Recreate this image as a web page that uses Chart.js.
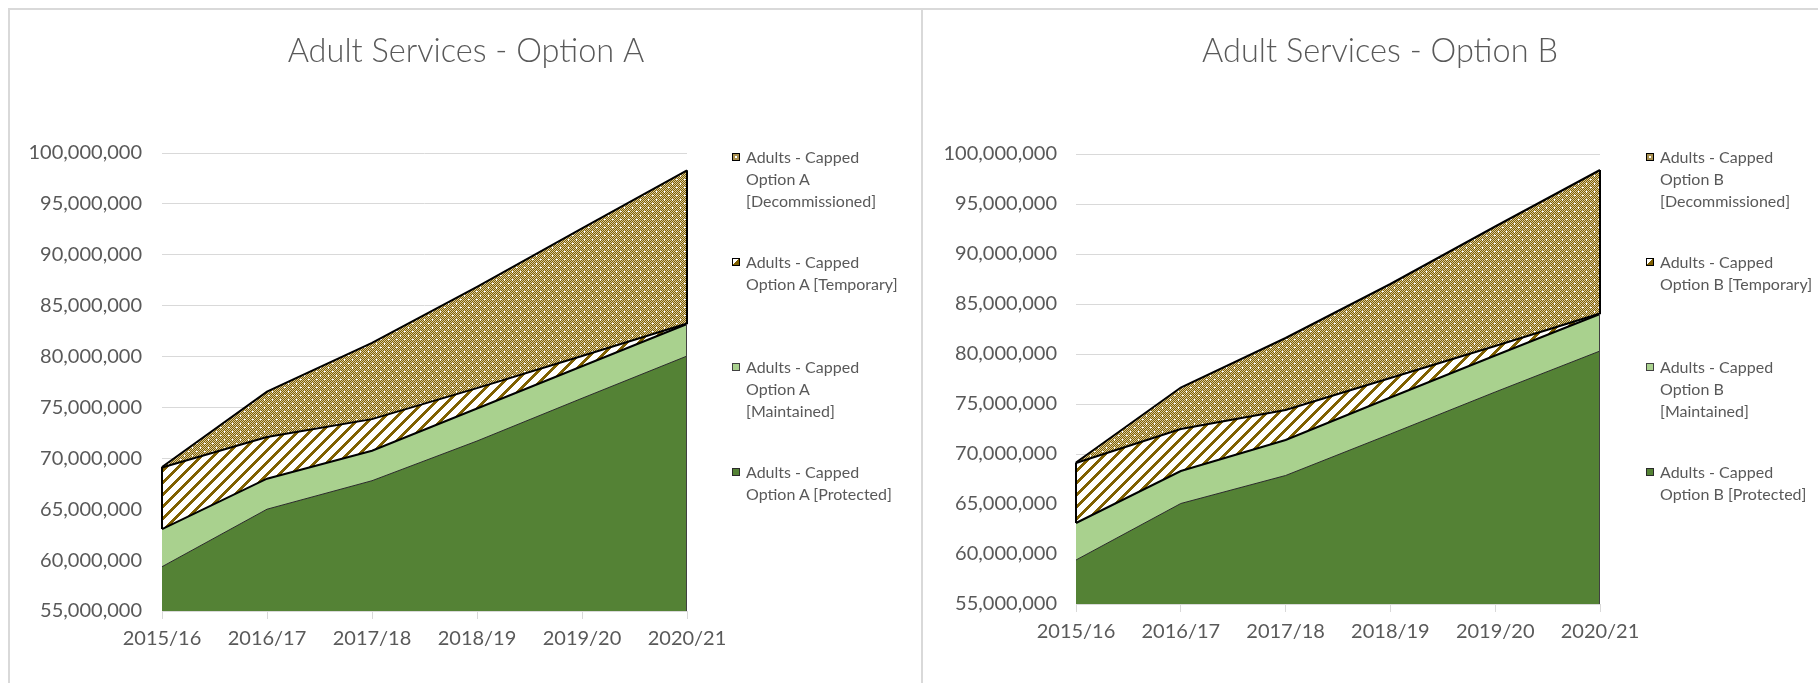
<!DOCTYPE html>
<html lang="en">
<head>
    <meta charset="UTF-8">
    <title>Adult Services - Option A / Option B</title>
    <!-- Chart js Library -->
    <script src="https://cdn.jsdelivr.net/npm/chart.js"></script>
    <style>
        html, body {
            margin: 0;
            padding: 0;
            background: #ffffff;
            width: 1818px;
            height: 683px;
            overflow: hidden;
            font-family: Lato, "Open Sans", sans-serif;
        }

        .panel {
            position: absolute;
            top: 8px;
            height: 720px;
            border: 2px solid #d9d9d9;
            box-sizing: border-box;
            background: #ffffff;
        }

        canvas {
            position: absolute;
            top: 9px;
        }

        .legend {
            position: absolute;
            top: 146px;
            color: #595959;
            font-size: 16px;
            line-height: 22px;
        }

        .legend-item {
            display: flex;
            height: 105px;
        }

        .swatch {
            width: 6px;
            height: 6px;
            border: 1.5px solid #000000;
            margin-top: 7px;
            margin-right: 6px;
            flex: none;
        }

        .legend-text {
            white-space: pre-line;
        }
    </style>
</head>
<body>
    <div class="panel" style="left: 8px; width: 916px;"></div>
    <div class="panel" style="left: 921px; width: 920px;"></div>

    <canvas id="chartA" width="912" height="674" style="left: 10px;"></canvas>
    <canvas id="chartB" width="912" height="674" style="left: 924px;"></canvas>

    <div class="legend" id="legendA" style="left: 732px;"></div>
    <div class="legend" id="legendB" style="left: 1646px;"></div>

    <script>
        // Kategori (tahun)
        const years = ['2015/16', '2016/17', '2017/18', '2018/19', '2019/20', '2020/21'];

        // Sumbu Y
        const yMin = 55000000;
        const yMax = 100000000;
        const yStep = 5000000;

        // Option A
        const protectedA = [59350000, 65000000, 67800000, 71700000, 75900000, 80050000];
        const maintainedA = [3700000, 3000000, 2950000, 3200000, 3150000, 3150000];
        const temporaryA = [6050000, 4100000, 3100000, 2000000, 1000000, 50000];
        const decommissionedA = [50000, 4450000, 7500000, 9950000, 12550000, 15050000];

        // Option B
        const protectedB = [59400000, 65050000, 67850000, 72000000, 76200000, 80300000];
        const maintainedB = [3700000, 3250000, 3550000, 3650000, 3650000, 3700000];
        const temporaryB = [6000000, 4200000, 3000000, 1950000, 950000, 50000];
        const decommissionedB = [50000, 4150000, 7200000, 9400000, 11950000, 14350000];

        const textColor = '#595959';
        const gridColor = '#d9d9d9';
        const darkGreen = '#548235';
        const lightGreen = '#a9d18e';
        const brown = [128, 96, 0];

        Chart.defaults.font.family = 'Lato, "Open Sans", sans-serif';
        Chart.defaults.color = textColor;

        // Pola titik (Decommissioned)
        function makeDotPattern() {
            const c = document.createElement('canvas');
            c.width = 8;
            c.height = 8;
            const g = c.getContext('2d');
            const img = g.createImageData(8, 8);
            for (let y = 0; y < 8; y++) {
                for (let x = 0; x < 8; x++) {
                    let col = (x + y) % 2 === 0 ? brown : [214, 200, 160];
                    if ((x === 2 && y === 2) || (x === 3 && y === 2) || (x === 6 && y === 6) || (x === 6 && y === 7)) {
                        col = [255, 255, 255];
                    }
                    const i = (y * 8 + x) * 4;
                    img.data[i] = col[0];
                    img.data[i + 1] = col[1];
                    img.data[i + 2] = col[2];
                    img.data[i + 3] = 255;
                }
            }
            g.putImageData(img, 0, 0);
            return g.createPattern(c, 'repeat');
        }

        // Pola garis diagonal (Temporary)
        function makeStripePattern() {
            const n = 12;
            const c = document.createElement('canvas');
            c.width = n;
            c.height = n;
            const g = c.getContext('2d');
            const img = g.createImageData(n, n);
            for (let y = 0; y < n; y++) {
                for (let x = 0; x < n; x++) {
                    const col = (x + y) % n < 4 ? brown : [255, 255, 255];
                    const i = (y * n + x) * 4;
                    img.data[i] = col[0];
                    img.data[i + 1] = col[1];
                    img.data[i + 2] = col[2];
                    img.data[i + 3] = 255;
                }
            }
            g.putImageData(img, 0, 0);
            return g.createPattern(c, 'repeat');
        }

        // Garis tepi vertikal di awal dan akhir area
        const edgePlugin = {
            id: 'edges',
            afterDatasetsDraw(chart) {
                const ctx = chart.ctx;
                const last = chart.data.labels.length - 1;
                const maint = chart.getDatasetMeta(1).data;
                const top = chart.getDatasetMeta(3).data;
                ctx.save();
                ctx.strokeStyle = '#000000';
                ctx.lineWidth = 2;
                [0, last].forEach(i => {
                    ctx.beginPath();
                    ctx.moveTo(maint[i].x, maint[i].y);
                    ctx.lineTo(top[i].x, top[i].y);
                    ctx.stroke();
                });
                ctx.strokeStyle = '#404040';
                ctx.lineWidth = 1;
                ctx.beginPath();
                ctx.moveTo(maint[last].x - 0.5, chart.chartArea.bottom);
                ctx.lineTo(maint[last].x - 0.5, maint[last].y);
                ctx.stroke();
                ctx.restore();
            }
        };

        // Judul di tengah kanvas (bukan di tengah area plot)
        const centerTitlePlugin = {
            id: 'centerTitle',
            afterDraw(chart, args, opts) {
                const ctx = chart.ctx;
                ctx.save();
                ctx.font = '300 32.5px Lato, "Open Sans", sans-serif';
                ctx.fillStyle = textColor;
                ctx.textAlign = 'center';
                ctx.textBaseline = 'middle';
                ctx.fillText(opts.text, chart.width / 2, opts.y);
                ctx.restore();
            }
        };

        function buildChart(canvasId, title, series, box) {
            const dots = makeDotPattern();
            const stripes = makeStripePattern();
            return new Chart(document.getElementById(canvasId), {
                type: 'line',
                data: {
                    labels: years,
                    datasets: [
                        { label: series.names[0], data: series.values[0], backgroundColor: darkGreen, borderColor: '#2a2a2a', borderWidth: 1, fill: 'start' },
                        { label: series.names[1], data: series.values[1], backgroundColor: lightGreen, borderColor: '#000000', borderWidth: 2, fill: '-1' },
                        { label: series.names[2], data: series.values[2], backgroundColor: stripes, borderColor: '#000000', borderWidth: 2, fill: '-1' },
                        { label: series.names[3], data: series.values[3], backgroundColor: dots, borderColor: '#000000', borderWidth: 2, fill: '-1' }
                    ]
                },
                options: {
                    responsive: false,
                    animation: false,
                    elements: {
                        point: { radius: 0 },
                        line: { tension: 0 }
                    },
                    layout: {
                        padding: { left: 0, right: box.right, top: box.top, bottom: box.bottom }
                    },
                    plugins: {
                        legend: { display: false },
                        tooltip: { enabled: false },
                        title: { display: false },
                        centerTitle: { text: title, y: 43 }
                    },
                    scales: {
                        x: {
                            grid: { drawOnChartArea: false, color: gridColor, tickLength: 8 },
                            border: { color: gridColor },
                            ticks: { font: { size: 20 }, padding: 8, maxRotation: 0, color: textColor },
                            afterFit(scale) { scale.height = 50; }
                        },
                        y: {
                            stacked: true,
                            min: yMin,
                            max: yMax,
                            grid: { color: gridColor, drawTicks: false },
                            border: { display: false },
                            ticks: {
                                stepSize: yStep,
                                padding: box.tickPad,
                                font: { size: 20 },
                                color: textColor,
                                callback: v => v.toLocaleString('en-US')
                            },
                            afterFit(scale) { scale.width = box.left; }
                        }
                    }
                },
                plugins: [edgePlugin, centerTitlePlugin]
            });
        }

        // Legend HTML (urutan terbalik seperti Excel)
        function buildLegend(id, names) {
            const swatchStyles = [
                'background:' + darkGreen + '; border-color:#2a2a2a;',
                'background:' + lightGreen + '; border-color:#404040;',
                'background: linear-gradient(135deg, #ffffff 50%, #806000 50%);',
                'background: radial-gradient(circle, #ffffff 25%, #a89050 30%);'
            ];
            const el = document.getElementById(id);
            for (let i = names.length - 1; i >= 0; i--) {
                const item = document.createElement('div');
                item.className = 'legend-item';
                item.innerHTML = '<div class="swatch" style="' + swatchStyles[i] + '"></div>' +
                    '<div class="legend-text">' + names[i] + '</div>';
                el.appendChild(item);
            }
        }

        const namesA = [
            'Adults - Capped\nOption A [Protected]',
            'Adults - Capped\nOption A\n[Maintained]',
            'Adults - Capped\nOption A [Temporary]',
            'Adults - Capped\nOption A\n[Decommissioned]'
        ];
        const namesB = [
            'Adults - Capped\nOption B [Protected]',
            'Adults - Capped\nOption B\n[Maintained]',
            'Adults - Capped\nOption B [Temporary]',
            'Adults - Capped\nOption B\n[Decommissioned]'
        ];

        buildChart('chartA', 'Adult Services - Option A',
            { names: namesA.map(n => n.replace(/\n/g, ' ')), values: [protectedA, maintainedA, temporaryA, decommissionedA] },
            { left: 152, right: 235, top: 144, bottom: 22, tickPad: 20 });

        buildChart('chartB', 'Adult Services - Option B',
            { names: namesB.map(n => n.replace(/\n/g, ' ')), values: [protectedB, maintainedB, temporaryB, decommissionedB] },
            { left: 152, right: 236, top: 145, bottom: 29, tickPad: 19 });

        buildLegend('legendA', namesA);
        buildLegend('legendB', namesB);
    </script>
</body>
</html>
